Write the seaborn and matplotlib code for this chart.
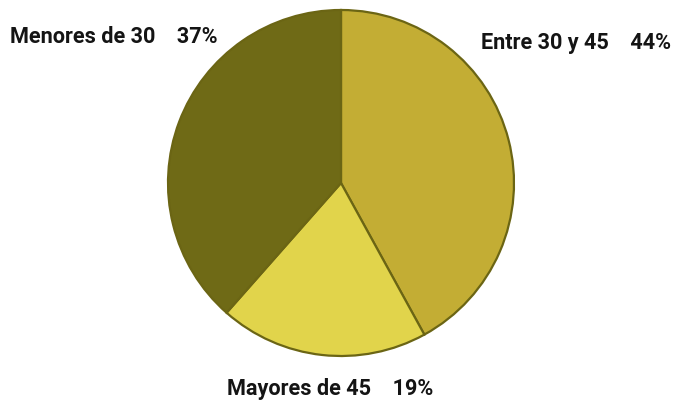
import matplotlib
matplotlib.use("Agg")
import matplotlib.pyplot as plt
import seaborn as sns

categories = ["Entre 30 y 45", "Mayores de 45", "Menores de 30"]
slice_shares = [42.0, 19.5, 38.5]
label_pcts = [44, 19, 37]
colors = ["#C3AD34", "#E1D44B", "#6F6A16"]
edge_color = "#6B6514"

sns.set_theme(style="white")
plt.rcParams["font.family"] = ["Roboto", "DejaVu Sans"]

W, H = 683, 400
fig = plt.figure(figsize=(W / 100, H / 100), dpi=100)
fig.patch.set_facecolor("white")

cx, cy, r = 341, 183, 173
ax = fig.add_axes([(cx - r) / W, (H - cy - r) / H, 2 * r / W, 2 * r / H])
ax.pie(slice_shares, colors=sns.color_palette(colors), startangle=90, counterclock=False,
       radius=1.0, wedgeprops=dict(edgecolor=edge_color, linewidth=1.6))
ax.set_xlim(-1.0, 1.0)
ax.set_ylim(-1.0, 1.0)
ax.set_axis_off()

label_pos = {
    "Menores de 30": (10, 43, "left"),
    "Entre 30 y 45": (671, 48.5, "right"),
    "Mayores de 45": (227, 395.5, "left"),
}
for cat, pct in zip(categories, label_pcts):
    x, y, ha = label_pos[cat]
    fig.text(x / W, 1 - y / H, f"{cat}    {pct}%", ha=ha, va="baseline",
             fontsize=15.6, fontweight="bold", color="#141414")

fig.savefig("out.png", dpi=100, facecolor="white")
